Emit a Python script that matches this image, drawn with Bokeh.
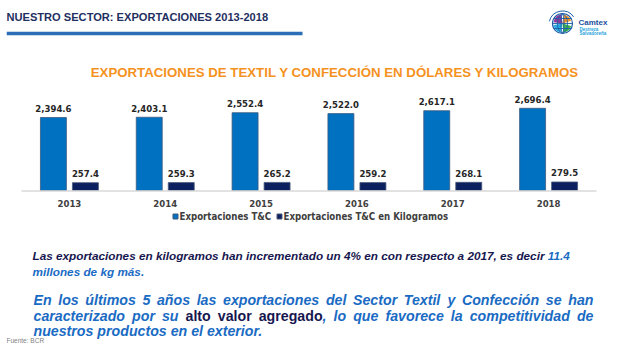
from bokeh.plotting import figure
from bokeh.models import FactorRange, Range1d, ColumnDataSource
from bokeh.transform import dodge
from bokeh.core.properties import value
from bokeh.embed import file_html
from bokeh.resources import INLINE

# ---------------- data ----------------
years = ["2013", "2014", "2015", "2016", "2017", "2018"]
usd = [2394.6, 2403.1, 2552.4, 2522.0, 2617.1, 2696.4]
kg = [257.4, 259.3, 265.2, 259.2, 268.1, 279.5]
series_names = ["Exportaciones T&C", "Exportaciones T&C en Kilogramos"]
header_title = "NUESTRO SECTOR: EXPORTACIONES 2013-2018"
chart_title = "EXPORTACIONES DE TEXTIL Y CONFECCIÓN EN DÓLARES Y KILOGRAMOS"
source_note = "Fuente: BCR"

# ---------------- layout constants ----------------
W, H = 611, 344
LEFT = 6                # frame starts here (canvas px)
BASE = 190.0            # canvas y of the value 0
K = 73.0 / 2394.6       # px per unit
CAT_SPAN = 575.0        # px covered by the 6 categories
PXU = CAT_SPAN / len(years)   # px per category unit
PAD = ((W - LEFT) - CAT_SPAN) / 2.0


def X(xpx):
    """canvas-pixel x -> synthetic categorical coordinate"""
    return (xpx - LEFT - PAD) / PXU


BLUE = "#0070C0"
NAVY = "#0C1F5E"
TXT_BLUE = "#1A6BC3"
TXT_NAVY = "#17174F"
LBL = "#262626"
GREY = "#404040"
NUM_FONT = "DejaVu Sans Condensed"
SANS = "Liberation Sans"

p = figure(width=W, height=H, output_backend="svg", toolbar_location=None,
           x_range=FactorRange(*years, range_padding=(W - LEFT) / CAT_SPAN - 1),
           y_range=Range1d(-(H - BASE) / K, BASE / K),
           x_axis_location=None, y_axis_location=None)
p.min_border = 0
p.min_border_left = LEFT
p.outline_line_color = None
p.grid.visible = False
p.background_fill_color = "white"
p.border_fill_color = "white"
p.extra_y_ranges = {"py": Range1d(H, 0)}

src = ColumnDataSource(dict(
    year=years, usd=usd, kg=kg,
    usd_lbl=[f"{v:,.1f}" for v in usd],
    kg_lbl=[f"{v:,.1f}" for v in kg],
))

OFF = 0.167
BW = 0.271
p.vbar(x=dodge("year", -OFF, range=p.x_range), top="usd", bottom=0, width=BW,
       source=src, fill_color=BLUE, line_color="#3D5A80", line_width=0.8)
p.vbar(x=dodge("year", OFF, range=p.x_range), top="kg", bottom=0, width=BW,
       source=src, fill_color=NAVY, line_color="#4A5A78", line_width=0.8)

p.text(x=dodge("year", -OFF, range=p.x_range), y="usd", text="usd_lbl", source=src,
       text_align="center", text_baseline="middle", y_offset=-9,
       text_font=value(NUM_FONT), text_font_style="bold", text_font_size="9.5px",
       text_color=LBL)
p.text(x=dodge("year", OFF, range=p.x_range), y="kg", text="kg_lbl", source=src,
       text_align="center", text_baseline="middle", y_offset=-9,
       text_font=value(NUM_FONT), text_font_style="bold", text_font_size="9.5px",
       text_color=LBL)
# category labels (x axis)
p.text(x="year", y=0, text="year", source=src, text_align="center",
       text_baseline="middle", y_offset=13, text_font=value(NUM_FONT),
       text_font_style="bold", text_font_size="9.5px", text_color=GREY)

# axis baseline
p.segment(x0=[X(LEFT + PAD)], x1=[X(LEFT + PAD + CAT_SPAN)], y0=[BASE + 0.5],
          y1=[BASE + 0.5], y_range_name="py", line_color="#D9D9D9", line_width=1.5)


def txt(x, y, s, size, color, style="bold", align="left", font=SANS,
        baseline="middle"):
    p.text(x=[X(x)], y=[y], text=[s], y_range_name="py",
           text_font=value(font), text_font_size=f"{size}px",
           text_font_style=style, text_color=color, text_align=align,
           text_baseline=baseline)


# legend
p.scatter(x=[X(175), X(279)], y=[216, 216], marker="square", size=5,
          fill_color=[BLUE, NAVY], line_color=["#3D5A80", "#4A5A78"],
          y_range_name="py")
txt(179, 216, series_names[0], 9.6, GREY, font=NUM_FONT)
txt(283, 216, series_names[1], 9.6, GREY, font=NUM_FONT)

# header
txt(6, 16, header_title, 11.1, "#1F2F5F")
p.segment(x0=[X(6)], x1=[X(302)], y0=[33], y1=[33],
          y_range_name="py", line_color="#2C6DB8", line_width=3.5)
txt(334.5, 72, chart_title, 13.25, "#F5921E", align="center")

# logo
cx, cy = 562, 23
p.circle(x=[X(cx)], y=[cy], radius=10, radius_units="screen", fill_color="#FFFFFF",
         line_color="#1F5FA8", line_width=1.2, y_range_name="py")
p.wedge(x=[X(cx)] * 4, y=[cy] * 4, radius=9, radius_units="screen",
        start_angle=[0.3, 1.7, 3.3, 4.8], end_angle=[1.4, 3.0, 4.5, 6.0],
        fill_color=["#F7931E", "#8E3A9D", "#29ABE2", "#39B54A"], line_color=None,
        y_range_name="py")
p.ellipse(x=[X(cx), X(cx)], y=[cy, cy], width=[10, 3], height=[19, 19],
          width_units="screen", height_units="screen", fill_color=None,
          line_color="#1F5FA8", line_width=0.9, y_range_name="py")
p.segment(x0=[X(cx - 9), X(cx - 10), X(cx - 9)], x1=[X(cx + 9), X(cx + 10), X(cx + 9)],
          y0=[cy - 5, cy, cy + 5], y1=[cy - 5, cy, cy + 5],
          line_color="#1F5FA8", line_width=0.9, y_range_name="py")
p.arc(x=[X(cx)], y=[cy + 1], radius=13.5, radius_units="screen", start_angle=0.6,
      end_angle=2.9, line_color="#1F5FA8", line_width=1.0, y_range_name="py")
txt(578, 22, "Camtex", 8, "#1D4E9E")
txt(579, 28.5, "Destreza", 4.5, "#29A3DC")
txt(579, 33, "Salvadoreña", 4.5, "#29A3DC")

# ---------------- paragraphs ----------------
AW = {
    'a': 556, 'b': 611, 'c': 556, 'd': 611, 'e': 556, 'f': 333, 'g': 611, 'h': 611,
    'i': 278, 'j': 278, 'k': 556, 'l': 278, 'm': 889, 'n': 611, 'o': 611, 'p': 611,
    'q': 611, 'r': 389, 's': 556, 't': 333, 'u': 611, 'v': 556, 'w': 778, 'x': 556,
    'y': 556, 'z': 500, 'á': 556, 'é': 556, 'í': 278, 'ó': 611, 'ú': 611, 'ñ': 611,
    'A': 722, 'B': 722, 'C': 722, 'D': 722, 'E': 667, 'F': 611, 'G': 778, 'H': 722,
    'I': 278, 'J': 556, 'K': 722, 'L': 611, 'M': 833, 'N': 722, 'O': 778, 'P': 667,
    'Q': 778, 'R': 722, 'S': 667, 'T': 611, 'U': 722, 'V': 667, 'W': 944, 'X': 667,
    'Y': 667, 'Z': 611, ' ': 278, ',': 278, '.': 278, '%': 889, ':': 333, '-': 333,
}


def tw(s, size):
    return sum(AW.get(c, 556) for c in s) / 1000.0 * size


def line_segments(segs, x0, y, size):
    x = x0
    for s, color, style in segs:
        txt(x, y, s, size, color, style)
        x += tw(s, size)


def justify(words, x0, x1, y, size):
    widths = [sum(tw(s, size) for s, _, _ in w) for w in words]
    gap = (x1 - x0 - sum(widths)) / (len(words) - 1)
    x = x0
    for w, wd in zip(words, widths):
        xx = x
        for s, color, style in w:
            txt(xx, y, s, size, color, style)
            xx += tw(s, size)
        x += wd + gap


BI = "bold italic"
P1 = 11.75
line_segments([("Las exportaciones en kilogramos han incrementado un 4% en con respecto a 2017, es decir ", TXT_NAVY, BI),
               ("11.4", TXT_BLUE, BI)], 32, 255, P1)
line_segments([("millones de kg más.", TXT_BLUE, BI)], 32, 271, P1)

P2 = 14.2
l1 = "En los últimos 5 años las exportaciones del Sector Textil y Confección se han".split(" ")
justify([[(w, TXT_BLUE, BI)] for w in l1], 33, 593, 299, P2)
l2 = ([[(w, TXT_BLUE, BI)] for w in ["caracterizado", "por", "su"]]
      + [[("alto", TXT_NAVY, "bold")], [("valor", TXT_NAVY, "bold")],
         [("agregado", TXT_NAVY, "bold"), (",", TXT_BLUE, BI)]]
      + [[(w, TXT_BLUE, BI)] for w in "lo que favorece la competitividad de".split(" ")])
justify(l2, 33, 593, 315, P2)
line_segments([("nuestros productos  en el exterior.", TXT_BLUE, BI)], 33, 330, P2)

txt(6, 340, source_note, 6.5, "#7F7F7F", style="normal")

open("out.html", "w").write(file_html(p, INLINE))
